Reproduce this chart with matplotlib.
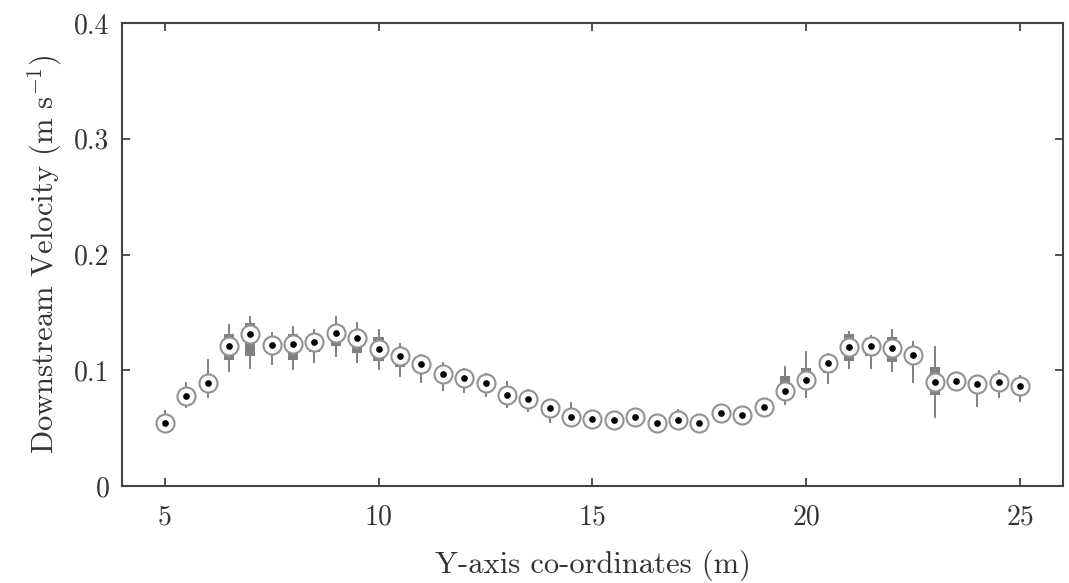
import numpy as np
import matplotlib
matplotlib.use("Agg")
import matplotlib.pyplot as plt

plt.rcParams['font.family'] = 'serif'
plt.rcParams['font.serif'] = ['cmr10']
plt.rcParams['mathtext.fontset'] = 'cm'
plt.rcParams['axes.unicode_minus'] = False

# cross-channel positions (m)
pos = np.arange(5, 25.5, 0.5)

# downstream velocity statistics at each position (m/s)
med = [0.054, 0.078, 0.089, 0.121, 0.131, 0.122, 0.123, 0.124, 0.132, 0.128,
       0.118, 0.112, 0.105, 0.097, 0.093, 0.089, 0.079, 0.075, 0.067, 0.060,
       0.058, 0.057, 0.060, 0.054, 0.057, 0.054, 0.063, 0.061, 0.068, 0.082,
       0.092, 0.106, 0.120, 0.121, 0.119, 0.113, 0.090, 0.091, 0.088, 0.090,
       0.086]
q1 = [0.051, 0.074, 0.085, 0.109, 0.112, 0.115, 0.109, 0.116, 0.121, 0.115,
      0.108, 0.103, 0.098, 0.091, 0.088, 0.084, 0.075, 0.071, 0.062, 0.056,
      0.055, 0.054, 0.057, 0.051, 0.054, 0.051, 0.060, 0.058, 0.065, 0.078,
      0.085, 0.098, 0.108, 0.112, 0.107, 0.105, 0.079, 0.087, 0.084, 0.086,
      0.082]
q3 = [0.058, 0.082, 0.094, 0.131, 0.141, 0.127, 0.131, 0.130, 0.139, 0.135,
      0.129, 0.117, 0.110, 0.101, 0.097, 0.093, 0.084, 0.079, 0.070, 0.064,
      0.061, 0.060, 0.063, 0.057, 0.060, 0.057, 0.066, 0.064, 0.071, 0.095,
      0.102, 0.112, 0.131, 0.128, 0.129, 0.120, 0.103, 0.094, 0.092, 0.094,
      0.090]
lo = [0.047, 0.068, 0.077, 0.099, 0.102, 0.105, 0.101, 0.107, 0.112, 0.107,
      0.101, 0.095, 0.090, 0.083, 0.081, 0.078, 0.068, 0.065, 0.055, 0.052,
      0.051, 0.050, 0.053, 0.048, 0.050, 0.048, 0.057, 0.055, 0.061, 0.071,
      0.077, 0.089, 0.102, 0.102, 0.099, 0.090, 0.060, 0.085, 0.069, 0.077,
      0.073]
hi = [0.065, 0.089, 0.109, 0.139, 0.146, 0.132, 0.137, 0.135, 0.146, 0.141,
      0.135, 0.123, 0.113, 0.106, 0.101, 0.097, 0.090, 0.083, 0.074, 0.072,
      0.064, 0.063, 0.065, 0.060, 0.066, 0.059, 0.069, 0.066, 0.074, 0.103,
      0.116, 0.114, 0.133, 0.130, 0.135, 0.124, 0.120, 0.096, 0.095, 0.099,
      0.095]

stats = [dict(med=m, q1=a, q3=b, whislo=l, whishi=h, fliers=[])
         for m, a, b, l, h in zip(med, q1, q3, lo, hi)]

fig = plt.figure(figsize=(10.69, 5.83), dpi=100)
ax = fig.add_axes([0.1141, 0.1664, 0.8803, 0.7941])

gray = '#808080'
ax.bxp(stats, positions=pos, widths=0.24, showcaps=False, patch_artist=True,
       boxprops=dict(facecolor=gray, edgecolor=gray, linewidth=0),
       whiskerprops=dict(color=gray, linewidth=1.4),
       medianprops=dict(linewidth=0), manage_ticks=False)

# open circle with a dot at the median
ax.plot(pos, med, 'o', ms=13, mfc='white', mec='#929292', mew=1.5, zorder=3)
ax.plot(pos, med, 'o', ms=3.8, color='black', zorder=4)

ax.set_xlim(4, 26)
ax.set_ylim(0, 0.4)
ax.set_xticks([5, 10, 15, 20, 25])
ax.set_xticklabels(['5', '10', '15', '20', '25'])
ax.set_yticks([0, 0.1, 0.2, 0.3, 0.4])
ax.set_yticklabels(['0', '0.1', '0.2', '0.3', '0.4'])
ax.tick_params(direction='in', top=True, right=True, length=6, width=1.2,
               labelsize=20, colors='#333333')
ax.tick_params(axis='x', pad=13)
ax.tick_params(axis='y', pad=9)
for s in ax.spines.values():
    s.set_linewidth(1.5)
    s.set_color('#444444')

ax.set_xlabel('Y-axis co-ordinates (m)', fontsize=22, labelpad=14, color='#333333')
ax.set_ylabel(r'Downstream Velocity (m s$^{-1}$)', fontsize=22, labelpad=7,
              color='#333333')

fig.savefig('out.png', dpi=100)
